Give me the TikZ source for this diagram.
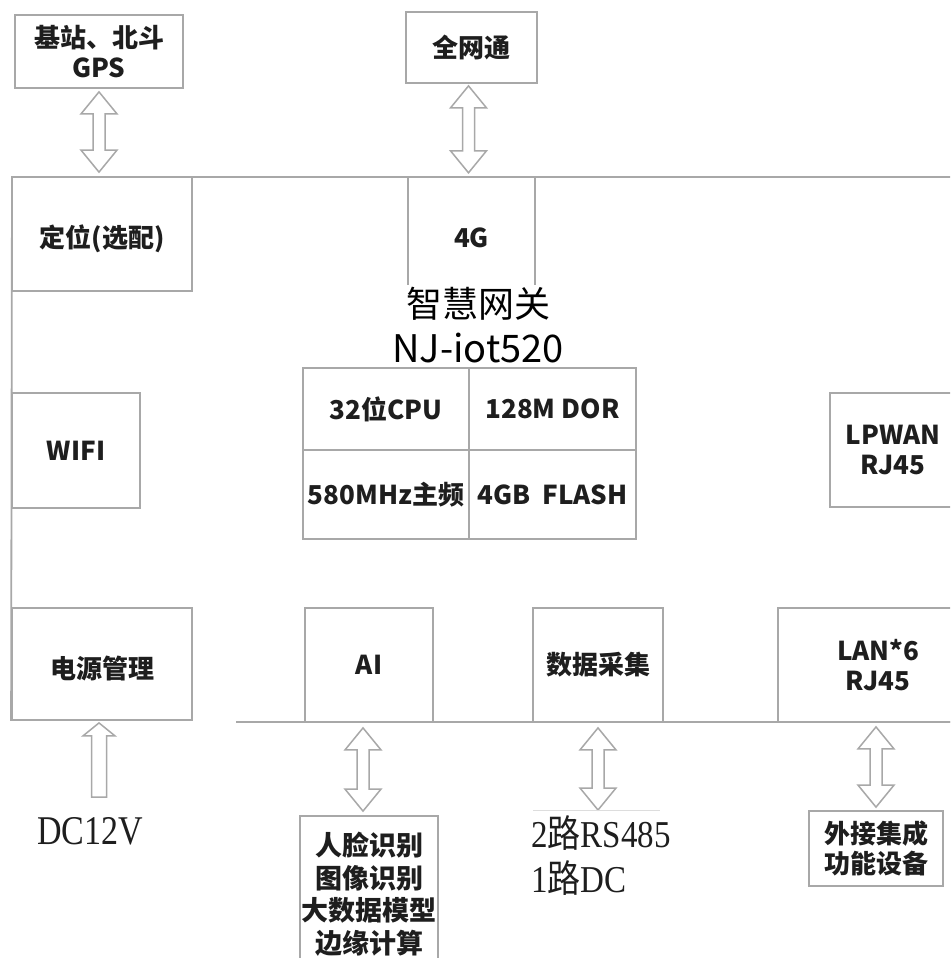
\documentclass[tikz,border=0pt]{standalone}
\usepackage{fontspec}
\setmainfont{Noto Sans CJK SC}
\newfontfamily\latserif{Liberation Serif}
\usetikzlibrary{calc}
\definecolor{linegray}{HTML}{A8A8A8}
\definecolor{faintgray}{HTML}{DDDDDD}
\definecolor{txt}{HTML}{1E1E1E}
\tikzset{
  wh/.style 2 args={minimum width=#1pt, minimum height=#2pt},
  box/.style={draw=linegray, line width=1.8pt, inner sep=0pt, align=center,
    text=txt, font=\bfseries\fontsize{26}{30}\selectfont},
  plainbox/.style={inner sep=0pt, align=center, text=txt,
    font=\bfseries\fontsize{26}{30}\selectfont},
  wire/.style={draw=linegray, line width=1.8pt},
  faint/.style={draw=faintgray, line width=1pt},
  hollow/.style={draw=linegray, line width=1.5pt, fill=white, line join=miter},
  titletext/.style={inner sep=0pt, text=black},
  sertext/.style={inner sep=0pt, text=txt, anchor=west}
}
\newcommand\lowered[2]{\raisebox{-#1pt}[\height][\depth]{#2}}
\newcommand\hollowDA[3]{%
  \draw[hollow] let \p1=(#1), \p2=(#2), \p3=(#3) in
    (\x1,\y2) -- ++(18pt,-22pt) -- ++(-12pt,0pt) -- (\x1+6pt,\y3+22pt)
    -- ++(12pt,0pt) -- (\x1,\y3) -- ++(-18pt,22pt) -- ++(12pt,0pt)
    -- (\x1-6pt,\y2-22pt) -- ++(-12pt,0pt) -- cycle;}
\begin{document}
\begin{tikzpicture}[x=1pt,y=-1pt]
\useasboundingbox (0,0) rectangle (950,958);
\clip (0,0) rectangle (950,958);
\fill[white] (0,0) rectangle (950,958);

% bus lines
\coordinate (topL) at (12,177);
\coordinate (topR) at (955,177);
\coordinate (botL) at (236,722);
\coordinate (botR) at (955,722);

% boxes
\node[box, wh={168}{73}] (gps) at (99,51.5) {基站、北斗\\GPS};
\node[box, wh={131}{71}] (net) at (471.5,47.5) {全网通};
\node[box, wh={180}{114}] (loc) at (102,234) {\lowered{5}{定位(选配)}};
\node[plainbox, wh={127}{108}] (g4) at (471.5,231) {\lowered{7}{4G}};
\node[box, wh={128}{115}] (wifi) at (76,450.5) {WIFI};
\node[box, wh={180}{112}] (pwr) at (102,664) {\lowered{5}{电源管理}};
\node[box, wh={128}{114}] (ai) at (369,665) {AI};
\node[box, wh={130}{114}] (data) at (598,665) {数据采集};
\node[box, wh={200}{114}] (lan) at (878,665) {LAN*6\\RJ45};
\node[box, wh={126}{114}] (lpwan) at (893,450) {LPWAN\\RJ45};

% central grid
\node[box, wh={166}{82}] (cpu) at (386,409) {32位CPU};
\node[box, wh={167}{82}] (ddr) at (552.5,409) {128M DOR};
\node[box, wh={166}{89}] (mhz) at (386,494.5) {580MHz主频};
\node[box, wh={167}{89}] (flash) at (552.5,494.5) {4GB\ \ FLASH};

% lower boxes
\node[box, wh={138}{156}, font=\bfseries\fontsize{27}{32.5}\selectfont] (face) at (369,894)
  {人脸识别\\图像识别\\大数据模型\\边缘计算};
\node[box, wh={134}{75}] (ext) at (876,848.5) {外接集成\\功能设备};

% bus wiring
\draw[wire] (topL) -- (topR);
\draw[wire] (topL) -- (pwr.south west);
\draw[wire] (botL) -- (botR);
\draw[wire] (g4.north west) -- (g4.south west);
\draw[wire] (g4.north east) -- (g4.south east);

% title
\node[titletext, font=\fontsize{36}{40}\selectfont] (title1) at (478,304) {智慧网关};
\node[titletext, font=\fontsize{38}{42}\selectfont] (title2) at (478,348) {NJ-iot520};

% hollow double arrows
\hollowDA{gps.south}{$(gps.south)+(0,3)$}{$(loc.north)+(0,-4)$}
\hollowDA{$(net.south)+(-3,0)$}{$(net.south)+(0,2)$}{$(g4.north)+(0,-4)$}
\hollowDA{$(face.north)+(-6,0)$}{$(ai.south)+(0,5)$}{$(face.north)+(0,-4)$}
\coordinate (rsTop) at (598,810);
\hollowDA{data.south}{$(data.south)+(0,5)$}{rsTop}
\hollowDA{ext.north}{$(lan.south)+(0,4)$}{$(ext.north)+(0,-3)$}
\draw[faint] (533,810) -- (660,810);

% DC12V single hollow arrow
\coordinate (dcTail) at (99,797);
\draw[hollow] let \p1=(pwr.south), \p2=(dcTail) in
  (\x2,\y1-2pt) -- ++(16pt,-13pt) -- ++(-8.5pt,0pt) -- (\x2+7.5pt,\y2)
  -- (\x2-7.5pt,\y2) -- (\x2-7.5pt,\y1-15pt) -- ++(-8.5pt,0pt) -- cycle;

% serif labels
\node[sertext, font=\fontsize{34}{38}\selectfont] (dc) at (37,831)
  {\scalebox{1}[1.2]{\latserif DC12V}};
\node[sertext, font=\fontsize{33}{38}\selectfont] (rs1) at (531,833)
  {\scalebox{1}[1.15]{{\latserif 2}路{\latserif RS485}}};
\node[sertext, font=\fontsize{33}{38}\selectfont] (rs2) at (531,878)
  {\scalebox{1}[1.15]{{\latserif 1}路{\latserif DC}}};
\end{tikzpicture}
\end{document}
